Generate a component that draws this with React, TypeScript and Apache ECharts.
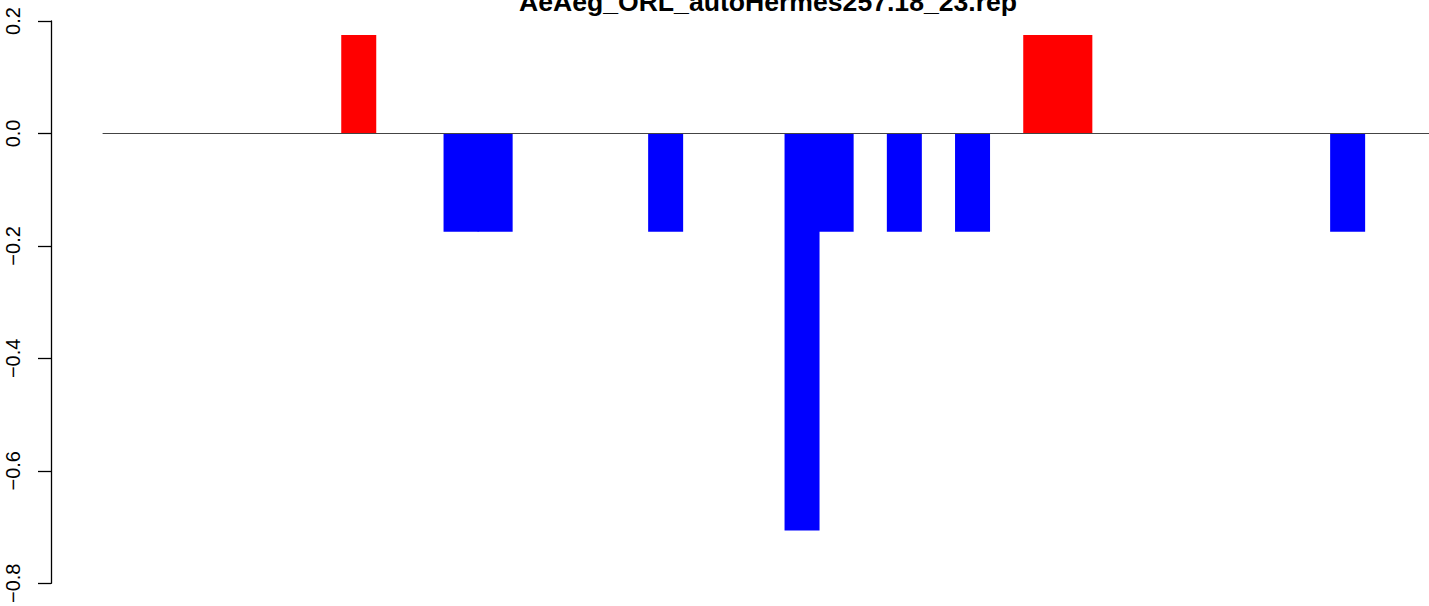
import React, { useEffect, useRef } from "react";
import * as echarts from "echarts";

const titleText = "AeAeg_ORL_autoHermes257.18_23.rep";
const positions: number[] = Array.from({ length: 39 }, (_, i) => i);
const barValues: number[] = [
  0, 0, 0, 0, 0, 0, 0, 0.175, 0, 0,
  -0.175, -0.175, 0, 0, 0, 0, -0.175, 0, 0, 0,
  -0.706, -0.175, 0, -0.175, 0, -0.175, 0, 0.175, 0.175, 0,
  0, 0, 0, 0, 0, 0, -0.175, 0, 0,
];
const yTicks = { min: -0.8, max: 0.2, interval: 0.2 };
const xRange = { min: -0.5, max: 38.386 };

export default function App() {
  const ref = useRef<HTMLDivElement>(null);
  useEffect(() => {
    document.body.style.margin = "0";
    const chart = echarts.init(ref.current!, null, { renderer: "svg" });
    chart.setOption({
      animation: false,
      backgroundColor: "#ffffff",
      graphic: [
        {
          type: "text",
          x: 768,
          y: 15,
          style: {
            text: titleText,
            fontFamily: "Liberation Sans",
            fontWeight: "bold",
            fontSize: 26.6,
            fill: "#000",
            textAlign: "center",
            textVerticalAlign: "bottom",
          },
        },
      ],
      grid: { left: 103, right: 0, top: 21, bottom: 20, containLabel: false },
      xAxis: {
        type: "value",
        min: xRange.min,
        max: xRange.max,
        axisLine: { show: true, onZero: true, lineStyle: { color: "#444", width: 1 } },
        axisTick: { show: false },
        axisLabel: { show: false },
        splitLine: { show: false },
        z: 3,
      },
      yAxis: {
        type: "value",
        min: yTicks.min,
        max: yTicks.max,
        interval: yTicks.interval,
        offset: 52,
        axisLine: { show: true, onZero: false, lineStyle: { color: "#000", width: 1.3 } },
        axisTick: { show: true, length: 13, lineStyle: { color: "#000", width: 1.3 } },
        axisLabel: {
          rotate: 90,
          margin: 28,
          fontFamily: "Liberation Sans",
          fontSize: 20,
          color: "#000",
          formatter: (v: number) => (v < 0 ? "\u2212" + Math.abs(v).toFixed(1) : v.toFixed(1)),
        },
        splitLine: { show: false },
      },
      series: [
        {
          type: "bar",
          z: 2,
          data: barValues.map((v, i) => ({
            value: [positions[i], v],
            itemStyle: {
              color: v === 0 ? "rgba(0,0,0,0)" : v > 0 ? "#ff0000" : "#0000ff",
              borderWidth: 0,
            },
          })),
          barWidth: 35,
        },
      ],
    });
    return () => chart.dispose();
  }, []);
  return <div ref={ref} style={{ width: 1429, height: 606 }} />;
}
